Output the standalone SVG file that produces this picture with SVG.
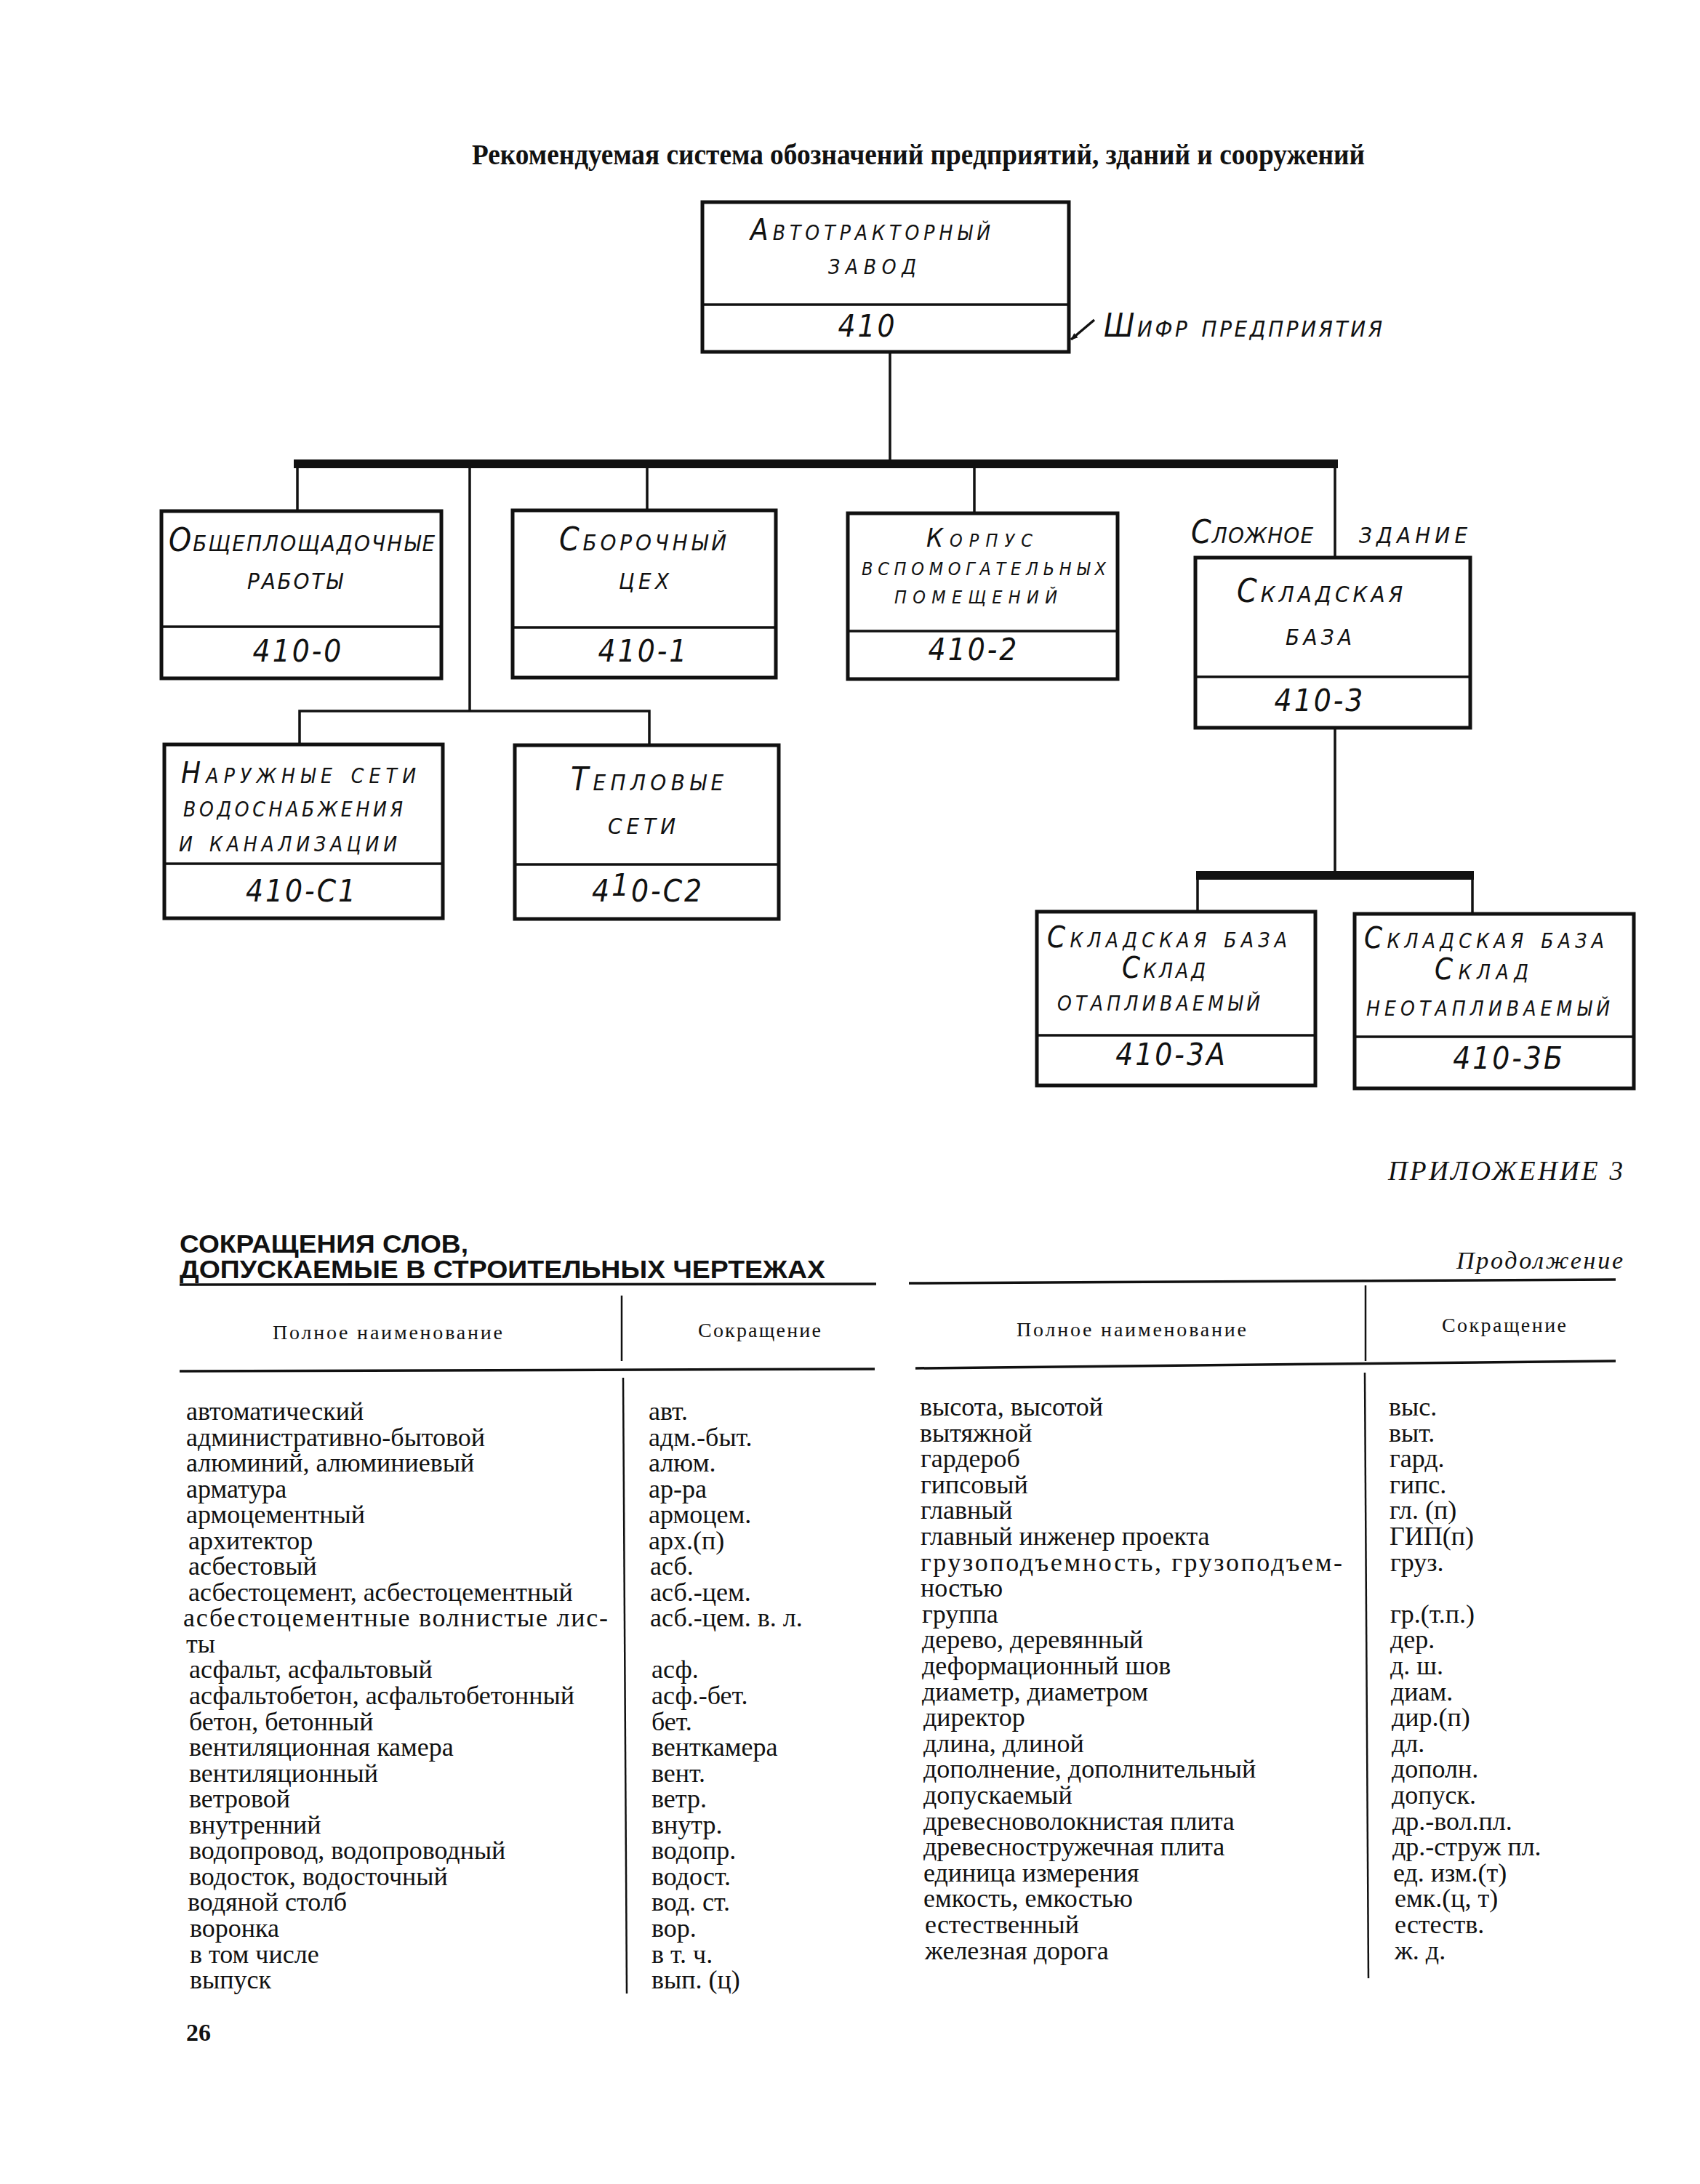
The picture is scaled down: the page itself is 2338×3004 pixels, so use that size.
<svg xmlns="http://www.w3.org/2000/svg" width="2338" height="3004" viewBox="0 0 2338 3004">
<style>
.bg{fill:#fff}
.box{fill:#fff;stroke:#111;stroke-width:5}
.div{stroke:#111;stroke-width:3.5}
.con{stroke:#111;stroke-width:3.5;fill:none}
.bus{fill:#111}
.lbl{font-family:"Liberation Sans Narrow","DejaVu Sans Condensed","Liberation Sans",sans-serif;font-style:italic;font-variant:small-caps;font-size:44px;fill:#111}
.sm{font-size:40px}
.xs{font-size:36px}
.code{font-family:"Liberation Sans Narrow","DejaVu Sans Condensed","Liberation Sans",sans-serif;font-style:italic;font-size:42px;fill:#111;text-anchor:middle;letter-spacing:3px}
.ttl{font-family:"Liberation Serif",serif;font-weight:bold;font-size:40px;fill:#111}
.hd{font-family:"Liberation Sans Narrow","Liberation Sans",sans-serif;font-weight:bold;font-size:35px;fill:#111}
.it{font-family:"Liberation Serif",serif;font-style:italic;fill:#111}
.th{font-family:"Liberation Serif",serif;font-size:28px;fill:#111}
.td{font-family:"Liberation Serif",serif;font-size:36px;fill:#111}
.rule{stroke:#111;stroke-width:3.5}
.vr{stroke:#111;stroke-width:2.5}
</style>
<defs>
<marker id="ah" markerWidth="10" markerHeight="10" refX="9" refY="5" orient="auto" markerUnits="userSpaceOnUse" viewBox="0 0 10 10">
<path d="M0,1 L10,5 L0,9 Z" fill="#111"/>
</marker>
</defs>
<rect class="bg" x="0" y="0" width="2338" height="3004"/>

<text class="ttl" x="649" y="226" textLength="1228" lengthAdjust="spacingAndGlyphs">Рекомендуемая система обозначений предприятий, зданий и сооружений</text>

<g id="connectors">
<line class="con" x1="1224" y1="484" x2="1224" y2="634"/>
<rect class="bus" x="404" y="632" width="1436" height="12"/>
<line class="con" x1="409" y1="644" x2="409" y2="703"/>
<line class="con" x1="646" y1="644" x2="646" y2="978"/>
<line class="con" x1="890" y1="644" x2="890" y2="702"/>
<line class="con" x1="1340" y1="644" x2="1340" y2="706"/>
<line class="con" x1="1836" y1="644" x2="1836" y2="767"/>
<polyline class="con" points="412,1024 412,978 893,978 893,1025"/>
<line class="con" x1="1836" y1="1001" x2="1836" y2="1199"/>
<rect class="bus" x="1645" y="1198" width="382" height="12"/>
<line class="con" x1="1647" y1="1210" x2="1647" y2="1254"/>
<line class="con" x1="2025" y1="1210" x2="2025" y2="1257"/>
<line class="con" x1="1505" y1="440" x2="1473" y2="467" marker-end="url(#ah)"/>
</g>

<g id="node-410">
<rect class="box" x="966" y="278" width="504" height="206"/>
<line class="div" x1="966" y1="419" x2="1470" y2="419"/>
<text class="lbl sm" x="1032" y="330" textLength="330">Автотракторный</text>
<text class="lbl sm" x="1139" y="377" textLength="121">завод</text>
<text class="code" x="1193" y="463">410</text>
</g>
<text id="cipher-label" class="lbl" x="1518" y="463" textLength="383">Шифр предприятия</text>

<g id="node-410-0">
<rect class="box" x="222" y="703" width="385" height="230"/>
<line class="div" x1="222" y1="862" x2="607" y2="862"/>
<text class="lbl" x="232" y="758" textLength="366">Общеплощадочные</text>
<text class="lbl" x="340" y="810" textLength="131">работы</text>
<text class="code" x="410" y="910">410-0</text>
</g>

<g id="node-410-1">
<rect class="box" x="705" y="702" width="362" height="230"/>
<line class="div" x1="705" y1="863" x2="1067" y2="863"/>
<text class="lbl" x="769" y="757" textLength="230">Сборочный</text>
<text class="lbl" x="851" y="810" textLength="69">цех</text>
<text class="code" x="885" y="910">410-1</text>
</g>

<g id="node-410-2">
<rect class="box" x="1166" y="706" width="371" height="228"/>
<line class="div" x1="1166" y1="868" x2="1537" y2="868"/>
<text class="lbl xs" x="1274" y="752" textLength="146">Корпус</text>
<text class="lbl xs" x="1185" y="791" textLength="336">вспомогательных</text>
<text class="lbl xs" x="1230" y="830" textLength="224">помещений</text>
<text class="code" x="1339" y="908">410-2</text>
</g>

<text id="complex-label-1" class="lbl" x="1638" y="747" textLength="168">Сложное</text>
<text id="complex-label-2" class="lbl" x="1869" y="747" textLength="149">здание</text>

<g id="node-410-3">
<rect class="box" x="1644" y="767" width="378" height="234"/>
<line class="div" x1="1644" y1="931" x2="2022" y2="931"/>
<text class="lbl" x="1701" y="828" textLength="228">Складская</text>
<text class="lbl" x="1768" y="887" textLength="91">база</text>
<text class="code" x="1815" y="978">410-3</text>
</g>

<g id="node-410-C1">
<rect class="box" x="226" y="1024" width="383" height="239"/>
<line class="div" x1="226" y1="1188" x2="609" y2="1188"/>
<text class="lbl sm" x="249" y="1077" textLength="323">Наружные сети</text>
<text class="lbl sm" x="252" y="1123" textLength="302">водоснабжения</text>
<text class="lbl sm" x="246" y="1171" textLength="300">и канализации</text>
<text class="code" x="415" y="1240">410-С1</text>
</g>

<g id="node-410-C2">
<rect class="box" x="708" y="1025" width="363" height="239"/>
<line class="div" x1="708" y1="1189" x2="1071" y2="1189"/>
<text class="lbl" x="785" y="1087" textLength="210">Тепловые</text>
<text class="lbl" x="836" y="1147" textLength="93">сети</text>
<text class="code" x="891" y="1240">4<tspan dy="-8">1</tspan><tspan dy="8">0-С2</tspan></text>
</g>

<g id="node-410-3A">
<rect class="box" x="1426" y="1254" width="383" height="239"/>
<line class="div" x1="1426" y1="1424" x2="1809" y2="1424"/>
<text class="lbl sm" x="1440" y="1303" textLength="330">Складская база</text>
<text class="lbl sm" x="1543" y="1345" textLength="115">Склад</text>
<text class="lbl sm" x="1454" y="1390" textLength="279">отапливаемый</text>
<text class="code" x="1611" y="1465">410-3А</text>
</g>

<g id="node-410-3B">
<rect class="box" x="1863" y="1257" width="384" height="240"/>
<line class="div" x1="1863" y1="1426" x2="2247" y2="1426"/>
<text class="lbl sm" x="1876" y="1304" textLength="330">Складская база</text>
<text class="lbl sm" x="1973" y="1347" textLength="129">Склад</text>
<text class="lbl sm" x="1879" y="1397" textLength="335">неотапливаемый</text>
<text class="code" x="2075" y="1470">410-3Б</text>
</g>

<g id="appendix">
<text class="it" x="1909" y="1623" font-size="37" textLength="323">ПРИЛОЖЕНИЕ 3</text>
<text class="hd" x="247" y="1723" textLength="397" lengthAdjust="spacingAndGlyphs">СОКРАЩЕНИЯ СЛОВ,</text>
<text class="hd" x="247" y="1758" textLength="888" lengthAdjust="spacingAndGlyphs">ДОПУСКАЕМЫЕ В СТРОИТЕЛЬНЫХ ЧЕРТЕЖАХ</text>
<text class="it" x="2003" y="1745" font-size="34" textLength="229">Продолжение</text>

<line class="rule" x1="247" y1="1767" x2="1205" y2="1766"/>
<line class="rule" x1="1250" y1="1765" x2="2222" y2="1760"/>
<line class="rule" x1="247" y1="1886" x2="1203" y2="1883"/>
<line class="rule" x1="1259" y1="1882" x2="2222" y2="1872"/>
<line class="vr" x1="855" y1="1782" x2="855" y2="1872"/>
<line class="vr" x1="857" y1="1895" x2="862" y2="2742"/>
<line class="vr" x1="1878" y1="1768" x2="1878" y2="1872"/>
<line class="vr" x1="1877" y1="1888" x2="1882" y2="2721"/>

<text class="th" x="375" y="1842" textLength="316">Полное наименование</text>
<text class="th" x="960" y="1839" textLength="169">Сокращение</text>
<text class="th" x="1398" y="1838" textLength="316">Полное наименование</text>
<text class="th" x="1983" y="1832" textLength="171">Сокращение</text>

<g class="td">
<text x="256" y="1953">автоматический</text>
<text x="256" y="1989">административно-бытовой</text>
<text x="256" y="2024">алюминий, алюминиевый</text>
<text x="256" y="2060">арматура</text>
<text x="256" y="2095">армоцементный</text>
<text x="259" y="2131">архитектор</text>
<text x="259" y="2166">асбестовый</text>
<text x="259" y="2202">асбестоцемент, асбестоцементный</text>
<text x="252" y="2237" textLength="584">асбестоцементные волнистые лис-</text>
<text x="256" y="2273">ты</text>
<text x="260" y="2308">асфальт, асфальтовый</text>
<text x="260" y="2344">асфальтобетон, асфальтобетонный</text>
<text x="260" y="2380">бетон, бетонный</text>
<text x="260" y="2415">вентиляционная камера</text>
<text x="260" y="2451">вентиляционный</text>
<text x="260" y="2486">ветровой</text>
<text x="260" y="2522">внутренний</text>
<text x="260" y="2557">водопровод, водопроводный</text>
<text x="260" y="2593">водосток, водосточный</text>
<text x="258" y="2628">водяной столб</text>
<text x="261" y="2664">воронка</text>
<text x="261" y="2700">в том числе</text>
<text x="261" y="2735">выпуск</text>

<text x="892" y="1953">авт.</text>
<text x="892" y="1989">адм.-быт.</text>
<text x="892" y="2024">алюм.</text>
<text x="892" y="2060">ар-ра</text>
<text x="892" y="2095">армоцем.</text>
<text x="892" y="2131">арх.(п)</text>
<text x="894" y="2166">асб.</text>
<text x="894" y="2202">асб.-цем.</text>
<text x="894" y="2237">асб.-цем. в. л.</text>
<text x="896" y="2308">асф.</text>
<text x="896" y="2344">асф.-бет.</text>
<text x="896" y="2380">бет.</text>
<text x="896" y="2415">венткамера</text>
<text x="896" y="2451">вент.</text>
<text x="896" y="2486">ветр.</text>
<text x="896" y="2522">внутр.</text>
<text x="896" y="2557">водопр.</text>
<text x="896" y="2593">водост.</text>
<text x="896" y="2628">вод. ст.</text>
<text x="896" y="2664">вор.</text>
<text x="896" y="2700">в т. ч.</text>
<text x="896" y="2735">вып. (ц)</text>

<text x="1265" y="1947">высота, высотой</text>
<text x="1265" y="1983">вытяжной</text>
<text x="1266" y="2018">гардероб</text>
<text x="1266" y="2054">гипсовый</text>
<text x="1266" y="2089">главный</text>
<text x="1266" y="2125">главный инженер проекта</text>
<text x="1266" y="2161" textLength="580">грузоподъемность, грузоподъем-</text>
<text x="1266" y="2196">ностью</text>
<text x="1268" y="2232">группа</text>
<text x="1268" y="2267">дерево, деревянный</text>
<text x="1268" y="2303">деформационный шов</text>
<text x="1268" y="2339">диаметр, диаметром</text>
<text x="1270" y="2374">директор</text>
<text x="1270" y="2410">длина, длиной</text>
<text x="1270" y="2445">дополнение, дополнительный</text>
<text x="1270" y="2481">допускаемый</text>
<text x="1270" y="2517">древесноволокнистая плита</text>
<text x="1270" y="2552">древесностружечная плита</text>
<text x="1270" y="2588">единица измерения</text>
<text x="1270" y="2623">емкость, емкостью</text>
<text x="1272" y="2659">естественный</text>
<text x="1272" y="2695">железная дорога</text>

<text x="1910" y="1947">выс.</text>
<text x="1910" y="1983">выт.</text>
<text x="1911" y="2018">гард.</text>
<text x="1911" y="2054">гипс.</text>
<text x="1911" y="2089">гл. (п)</text>
<text x="1911" y="2125">ГИП(п)</text>
<text x="1912" y="2161">груз.</text>
<text x="1912" y="2232">гр.(т.п.)</text>
<text x="1912" y="2267">дер.</text>
<text x="1912" y="2303">д. ш.</text>
<text x="1913" y="2339">диам.</text>
<text x="1914" y="2374">дир.(п)</text>
<text x="1914" y="2410">дл.</text>
<text x="1914" y="2445">дополн.</text>
<text x="1914" y="2481">допуск.</text>
<text x="1915" y="2517">др.-вол.пл.</text>
<text x="1915" y="2552">др.-струж пл.</text>
<text x="1916" y="2588">ед. изм.(т)</text>
<text x="1918" y="2623">емк.(ц, т)</text>
<text x="1918" y="2659">естеств.</text>
<text x="1918" y="2695">ж. д.</text>
</g>

<text x="256" y="2807" font-family="Liberation Serif, serif" font-weight="bold" font-size="34" fill="#111">26</text>
</g>
</svg>
